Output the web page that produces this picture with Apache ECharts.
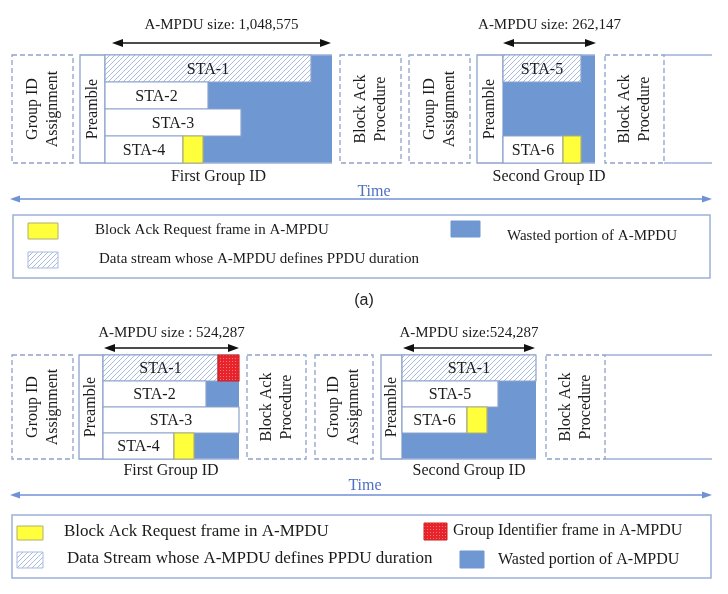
<!DOCTYPE html>
<html><head><meta charset="utf-8">
<script src="https://cdn.jsdelivr.net/npm/echarts@6/dist/echarts.min.js"></script>
<style>html,body{margin:0;padding:0;background:#fff}#c{width:728px;height:594px}</style>
</head><body><div id="c"></div>
<script>
// ===== DATA (x = time units, y = vertical layout units) =====
const panelTop = [55, 355];
const panelBottom = [163, 459];
const rowCount = 4;
const timeStart = 10, timeEnd = 712, panelEnd = 712;

// Frame slots
const slotPanel = [0, 0, 0, 0, 0, 0, 1, 1, 1, 1, 1, 1];
const slotLabel = ['Group ID\nAssignment', 'Preamble', 'Block Ack\nProcedure', 'Group ID\nAssignment', 'Preamble', 'Block Ack\nProcedure',
                   'Group ID\nAssignment', 'Preamble', 'Block Ack\nProcedure', 'Group ID\nAssignment', 'Preamble', 'Block Ack\nProcedure'];
const slotStart = [12, 80, 340, 409, 477, 605, 12, 79, 247, 315, 381, 546];
const slotEnd   = [73, 105, 401, 470, 503, 664, 73, 103, 306, 373, 402, 605];

// Groups (A-MPDU extents)
const groupPanel = [0, 0, 1, 1];
const groupCaption = ['First Group ID', 'Second Group ID', 'First Group ID', 'Second Group ID'];
const groupSize = ['A-MPDU size: 1,048,575', 'A-MPDU size: 262,147', 'A-MPDU size : 524,287', 'A-MPDU size:524,287'];
const groupStart = [105, 503, 103, 402];
const groupEnd = [332, 595, 239, 536];
const groupWasteFromRow = [0, 0, 1, 1];
const sizeArrowStart = [112, 503, 104, 403];
const sizeArrowEnd = [331, 596, 239, 535];

// Streams inside A-MPDUs
const streamPanel = [0, 0, 0, 0, 0, 0, 0, 0, 1, 1, 1, 1, 1, 1, 1, 1, 1, 1];
const streamRow   = [0, 1, 2, 3, 3, 0, 3, 3, 0, 0, 1, 2, 3, 3, 0, 1, 2, 2];
const streamLabel = ['STA-1', 'STA-2', 'STA-3', 'STA-4', '', 'STA-5', 'STA-6', '',
                     'STA-1', '', 'STA-2', 'STA-3', 'STA-4', '', 'STA-1', 'STA-5', 'STA-6', ''];
const streamKind  = ['defining', 'data', 'data', 'data', 'bar', 'defining', 'data', 'bar',
                     'defining', 'gid', 'data', 'data', 'data', 'bar', 'defining', 'data', 'data', 'bar'];
const streamStart = [105, 105, 105, 105, 183, 503, 503, 563, 103, 218, 103, 103, 103, 174, 402, 402, 402, 467];
const streamEnd   = [311, 208, 241, 183, 203, 581, 563, 581, 218, 239, 206, 239, 174, 194, 536, 498, 467, 487];

const panelTag = ['(a)'];
const legendA = ['Block Ack Request frame in A-MPDU', 'Data stream whose A-MPDU defines PPDU duration', 'Wasted portion of A-MPDU'];
const legendB = ['Block Ack Request frame in A-MPDU', 'Data Stream whose A-MPDU defines PPDU duration', 'Group Identifier frame in A-MPDU', 'Wasted portion of A-MPDU'];
const timeLabel = 'Time';

// ===== STYLE =====
const SERIF = '"Liberation Serif", "DejaVu Serif", serif';
const C = {blue: '#6f97d2', line: '#8ea3cc', yellow: '#ffff3c', yellowEdge: '#b0b070', red: '#e8232b',
  text: '#1b1b1b', time: '#7191d6', timeText: '#5070c4', hatch: '#a9bbdf', frame: '#9cb0d8'};

function makeHatch() {
  const c = document.createElement('canvas'); c.width = c.height = 5;
  const g = c.getContext('2d');
  g.fillStyle = '#fff'; g.fillRect(0, 0, 5, 5);
  g.strokeStyle = C.hatch; g.lineWidth = 1;
  g.beginPath(); g.moveTo(0, 5); g.lineTo(5, 0); g.moveTo(-1, 1); g.lineTo(1, -1); g.moveTo(4, 6); g.lineTo(6, 4); g.stroke();
  return c;
}
function makeDots() {
  const c = document.createElement('canvas'); c.width = c.height = 3;
  const g = c.getContext('2d');
  g.fillStyle = C.red; g.fillRect(0, 0, 3, 3);
  g.fillStyle = '#f47a7a'; g.fillRect(1, 1, 1, 1);
  return c;
}
const hatchFill = {image: makeHatch(), repeat: 'repeat'};
const dotFill = {image: makeDots(), repeat: 'repeat'};

function rowY(p, r) { return panelTop[p] + (panelBottom[p] - panelTop[p]) * r / rowCount; }
function rectShape(api, x0, x1, y0, y1) {
  const a = api.coord([x0, y0]), b = api.coord([x1, y1]);
  return {x: a[0], y: a[1], width: b[0] - a[0], height: b[1] - a[1]};
}
function txt(text, x, y, font, fill, align, extra) {
  return Object.assign({type: 'text', x: x, y: y, style: {text: text, x: 0, y: 0, font: font, fill: fill,
    align: align || 'center', verticalAlign: 'middle', textAlign: align || 'center', textVerticalAlign: 'middle', lineHeight: 20}}, extra || {});
}
function arrowEls(x0, x1, y, color, lw, hl, hw) {
  return [
    {type: 'line', shape: {x1: x0 + hl * 0.7, y1: y, x2: x1 - hl * 0.7, y2: y}, style: {stroke: color, lineWidth: lw}},
    {type: 'polygon', shape: {points: [[x0, y], [x0 + hl, y - hw / 2], [x0 + hl, y + hw / 2]]}, style: {fill: color}},
    {type: 'polygon', shape: {points: [[x1, y], [x1 - hl, y - hw / 2], [x1 - hl, y + hw / 2]]}, style: {fill: color}}
  ];
}

const chart = echarts.init(document.getElementById('c'), null, {renderer: 'canvas'});

const series = [];
// frame lines trailing to the panel end
series.push({type: 'custom', z: 1, data: [0, 1].map(p => [panelEnd, panelTop[p]]),
  renderItem: function (params, api) {
    const p = params.dataIndex;
    const last = Math.max.apply(null, slotEnd.filter((e, i) => slotPanel[i] === p));
    const a = api.coord([last, panelTop[p]]), b = api.coord([panelEnd, panelBottom[p]]);
    return {type: 'group', children: [
      {type: 'line', shape: {x1: a[0], y1: a[1], x2: b[0], y2: a[1]}, style: {stroke: C.frame, lineWidth: 1.3}},
      {type: 'line', shape: {x1: a[0], y1: b[1], x2: b[0], y2: b[1]}, style: {stroke: C.frame, lineWidth: 1.3}}
    ]};
  }});
// slots
series.push({type: 'custom', z: 2, data: slotStart.map((s, i) => [s, panelTop[slotPanel[i]]]),
  renderItem: function (params, api) {
    const i = params.dataIndex, p = slotPanel[i];
    const r = rectShape(api, slotStart[i], slotEnd[i], panelTop[p], panelBottom[p]);
    const dashed = slotLabel[i] !== 'Preamble';
    return {type: 'group', children: [
      {type: 'rect', shape: r, style: {fill: '#fff', stroke: C.line, lineWidth: 1.3, lineDash: dashed ? [5, 3] : null}},
      txt(slotLabel[i], r.x + r.width / 2, r.y + r.height / 2, '16px ' + SERIF, C.text, 'center', {rotation: Math.PI / 2})
    ]};
  }});
// wasted (blue) portion and annotations
series.push({type: 'custom', z: 3, data: groupStart.map((s, i) => [s, panelTop[groupPanel[i]]]),
  renderItem: function (params, api) {
    const i = params.dataIndex, p = groupPanel[i];
    const r = rectShape(api, groupStart[i], groupEnd[i], rowY(p, groupWasteFromRow[i]), panelBottom[p]);
    const top = api.coord([0, panelTop[p]])[1], bot = api.coord([0, panelBottom[p]])[1];
    const x0 = api.coord([groupStart[i], 0])[0], x1 = api.coord([groupEnd[i], 0])[0];
    const a0 = api.coord([sizeArrowStart[i], 0])[0], a1 = api.coord([sizeArrowEnd[i], 0])[0];
    const arrowY = top - (p === 0 ? 12 : 7), textY = top - (p === 0 ? 30 : 22);
    return {type: 'group', children: [
      {type: 'rect', shape: r, style: {fill: C.blue}},
      {type: 'line', shape: {x1: x0, y1: top, x2: x1, y2: top}, style: {stroke: C.frame, lineWidth: 1.3}},
      {type: 'line', shape: {x1: x0, y1: bot, x2: x1, y2: bot}, style: {stroke: C.frame, lineWidth: 1.3}}
    ].concat(arrowEls(a0, a1, arrowY, '#111', 1.4, 11, 8)).concat([
      txt(groupSize[i], (a0 + a1) / 2, textY, '15px ' + SERIF, C.text),
      txt(groupCaption[i], (x0 + x1) / 2, bot + (p === 0 ? 14 : 12), '16px ' + SERIF, C.text)
    ])};
  }});
// streams
series.push({type: 'custom', z: 4, data: streamStart.map((s, i) => [s, rowY(streamPanel[i], streamRow[i])]),
  renderItem: function (params, api) {
    const i = params.dataIndex, p = streamPanel[i], k = streamKind[i];
    const r = rectShape(api, streamStart[i], streamEnd[i], rowY(p, streamRow[i]), rowY(p, streamRow[i] + 1));
    let fill = '#fff', stroke = C.line;
    if (k === 'defining') fill = hatchFill;
    if (k === 'bar') { fill = C.yellow; stroke = C.yellowEdge; }
    if (k === 'gid') { fill = dotFill; stroke = '#d02020'; }
    const ch = [{type: 'rect', shape: r, style: {fill: fill, stroke: stroke, lineWidth: 1.2}}];
    if (streamLabel[i]) ch.push(txt(streamLabel[i], r.x + r.width / 2, r.y + r.height / 2 + 1, '16px ' + SERIF, C.text));
    return {type: 'group', children: ch};
  }});
// time arrows
series.push({type: 'custom', z: 5, data: [0, 1].map(p => [timeStart, panelBottom[p]]),
  renderItem: function (params, api) {
    const p = params.dataIndex;
    const y = api.coord([0, panelBottom[p] + 36])[1];
    const x0 = api.coord([timeStart, 0])[0], x1 = api.coord([timeEnd, 0])[0];
    const tx = p === 0 ? 374 : 365;
    return {type: 'group', children: arrowEls(x0, x1, y, C.time, 1.5, 10, 7).concat([
      txt(timeLabel, api.coord([tx, 0])[0], y - (p === 0 ? 7 : 9), '16px ' + SERIF, C.timeText)
    ])};
  }});

// legends (layout)
function legendGraphics() {
  const g = [];
  const f15 = '15px ' + SERIF, f16 = '16px ' + SERIF, f17 = '17px ' + SERIF;
  const box = (x, y, w, h) => ({type: 'rect', shape: {x: x, y: y, width: w, height: h}, style: {fill: 'none', stroke: C.frame, lineWidth: 1.5}});
  const sw = (x, y, w, h, fill, stroke) => ({type: 'rect', shape: {x: x, y: y, width: w, height: h}, style: {fill: fill, stroke: stroke, lineWidth: 1}});
  const lt = (t, x, y, font) => ({type: 'text', x: x, y: y, style: {text: t, font: font, fill: C.text, textVerticalAlign: 'middle', verticalAlign: 'middle'}});
  g.push(box(13, 215, 697, 63));
  g.push(sw(28, 223, 30, 16, C.yellow, C.yellowEdge));
  g.push(lt(legendA[0], 95, 230, f15));
  g.push(sw(28, 252, 30, 16, hatchFill, C.hatch));
  g.push(lt(legendA[1], 99, 259, f15));
  g.push(sw(451, 221, 29, 16, C.blue, C.blue));
  g.push(lt(legendA[2], 507, 236, f15));
  g.push({type: 'text', x: 364, y: 301, style: {text: panelTag[0], font: '16px "Liberation Sans", Arial, sans-serif', fill: '#222', textAlign: 'center', align: 'center', textVerticalAlign: 'middle', verticalAlign: 'middle'}});
  g.push(box(12, 515, 699, 63));
  g.push(sw(17, 526, 26, 14, C.yellow, C.yellowEdge));
  g.push(lt(legendB[0], 64, 532, f17));
  g.push(sw(17, 552, 26, 16, hatchFill, C.hatch));
  g.push(lt(legendB[1], 67, 559, f17));
  g.push(sw(424, 523, 23, 17, dotFill, '#d02020'));
  g.push(lt(legendB[2], 453, 531, f16));
  g.push(sw(460, 551, 24, 17, C.blue, C.blue));
  g.push(lt(legendB[3], 498, 560, f16));
  return g;
}

chart.setOption({
  animation: false,
  backgroundColor: '#fff',
  grid: {left: 0, right: 0, top: 0, bottom: 0, containLabel: false},
  xAxis: {type: 'value', min: 0, max: 728, show: false},
  yAxis: {type: 'value', min: 0, max: 594, inverse: true, show: false},
  graphic: legendGraphics(),
  series: series
});
</script></body></html>
